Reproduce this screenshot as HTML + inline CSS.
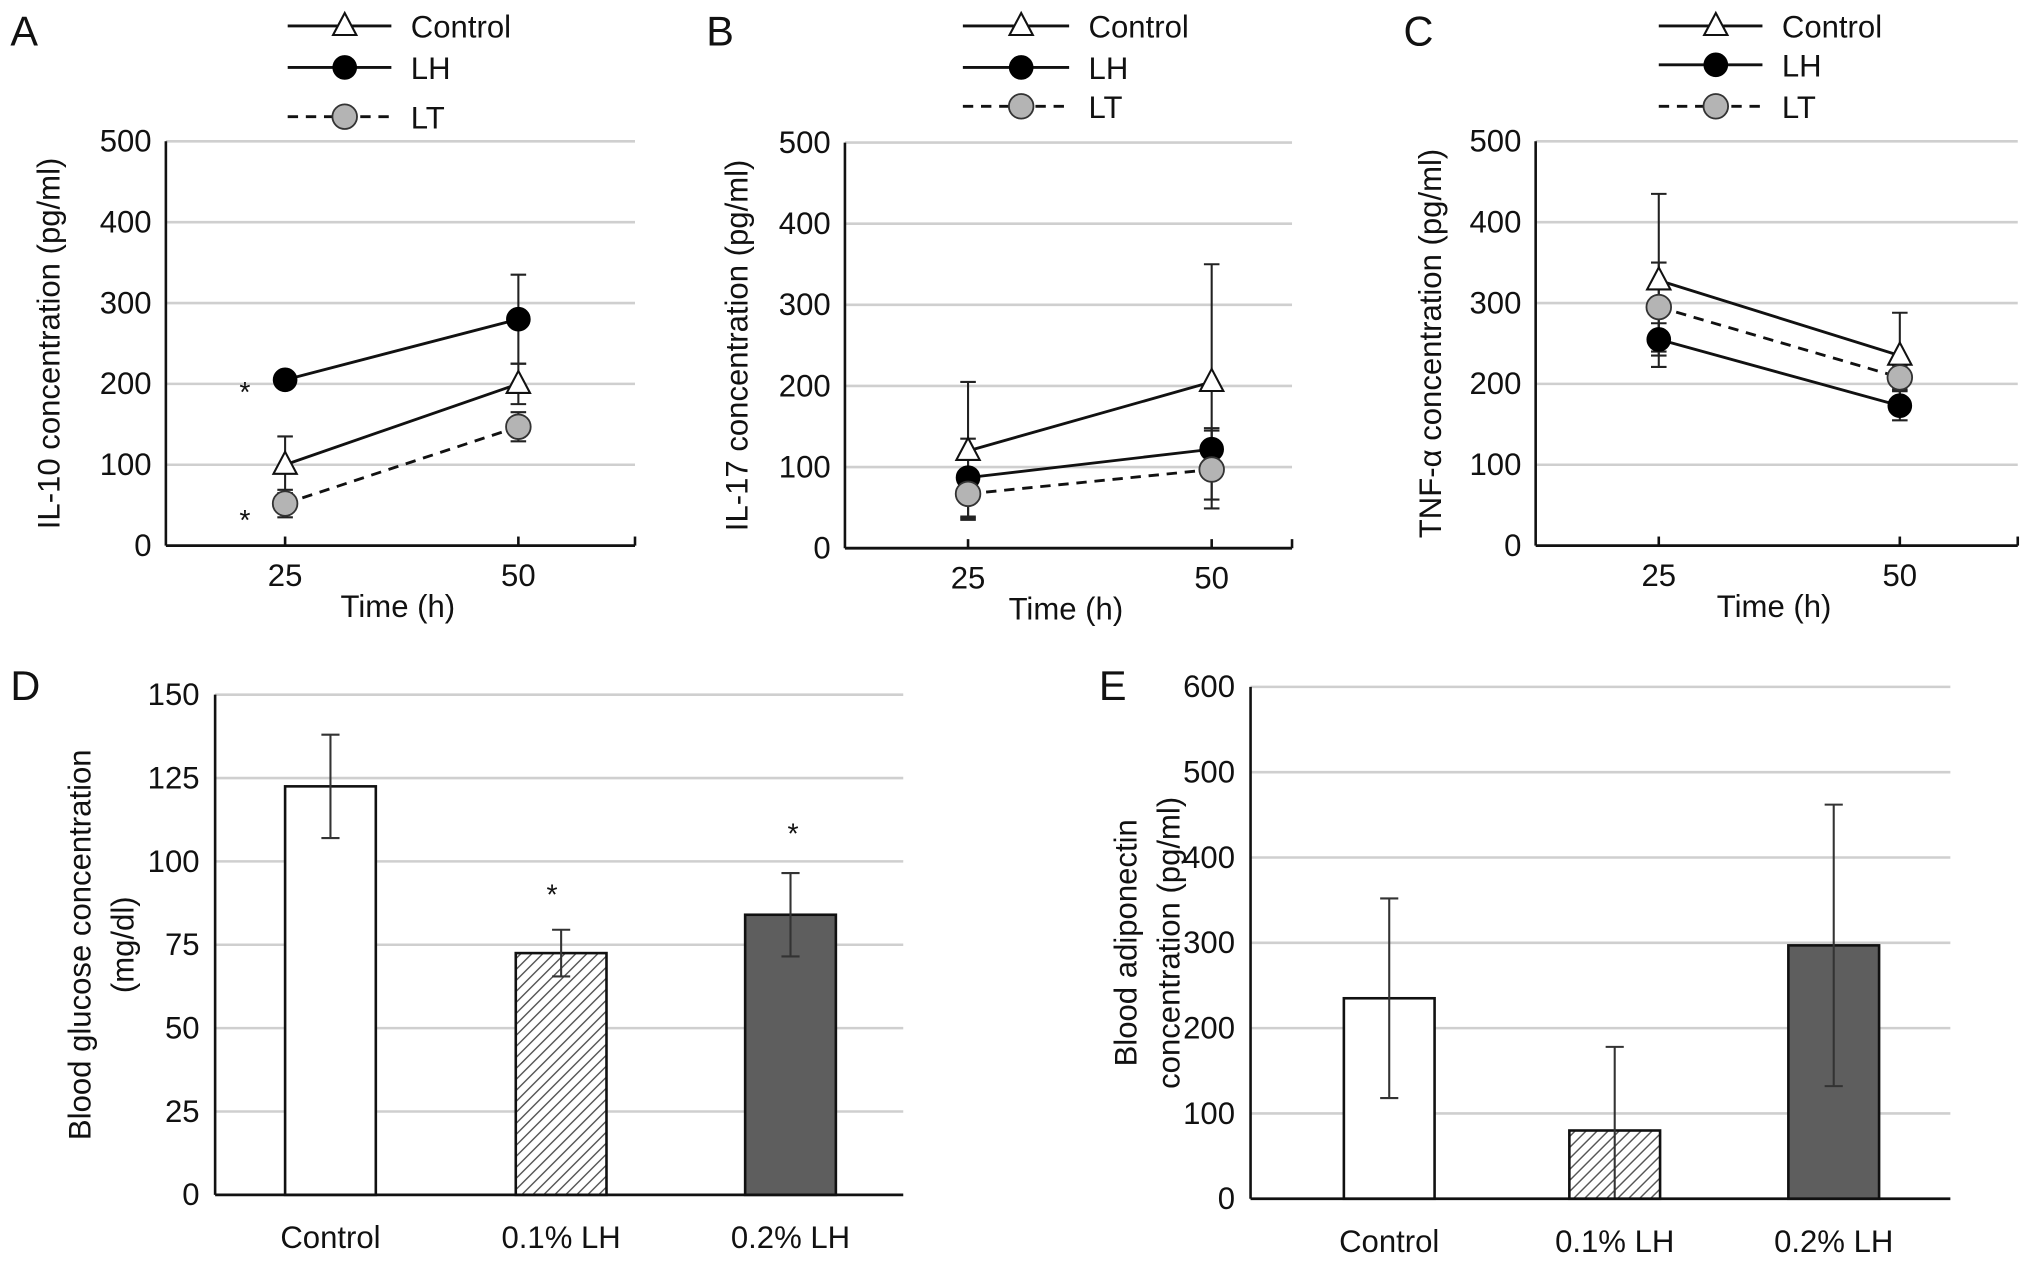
<!DOCTYPE html>
<html><head><meta charset="utf-8"><style>
html,body{margin:0;padding:0;background:#fff;}
svg{display:block;font-family:"Liberation Sans",sans-serif;}
</style></head><body>
<svg id="fig" width="2032" height="1261" viewBox="0 0 1568 973" xmlns="http://www.w3.org/2000/svg">
<defs>
<pattern id="hatch" patternUnits="userSpaceOnUse" width="6" height="6" patternTransform="rotate(45)">
<rect width="6" height="6" fill="#fff"/><line x1="0" y1="0" x2="0" y2="6" stroke="#555" stroke-width="2.2"/>
</pattern>
</defs>
</svg>
<script>
// ---- Line panel data ----
const timeCats = [25, 50];
const lineTicks = [0, 100, 200, 300, 400, 500];
const aControl = [100, 200], aControlErr = [35, 25];
const aLH = [205, 280], aLHErr = [0, 55];
const aLT = [52, 147], aLTErr = [17, 18];
const bControl = [120, 205], bControlErr = [85, 145];
const bLH = [87, 122], bLHErr = [48, 26];
const bLT = [67, 97], bLTErr = [30, 48];
const cControl = [328, 235], cControlErr = [107, 53];
const cLH = [255, 173], cLHErr = [20, 18];
const cLT = [295, 208], cLTErr = [55, 15];
// ---- Bar panel data ----
const barCats = ['Control', '0.1% LH', '0.2% LH'];
const dValues = [122.5, 72.5, 84];
const dErr = [15.5, 7, 12.5];
const dTicks = [0, 25, 50, 75, 100, 125, 150];
const eValues = [235, 80, 297];
const eErr = [117, 98, 165];
const eTicks = [0, 100, 200, 300, 400, 500, 600];

const NS = 'http://www.w3.org/2000/svg';
const svg = document.getElementById('fig');
function mk(tag, attrs, parent) {
  const e = document.createElementNS(NS, tag);
  for (const k in attrs) e.setAttribute(k, attrs[k]);
  (parent || svg).appendChild(e);
  return e;
}
function txt(x, y, s, size, anchor, parent, extra) {
  const t = mk('text', Object.assign({x: x, y: y, 'font-size': size, 'text-anchor': anchor || 'start', fill: '#111'}, extra || {}), parent);
  t.textContent = s;
  return t;
}

function marker(g, type, x, y) {
  let m;
  if (type === 'tri') m = mk('polygon', {points: `${x},${y-10} ${x-9},${y+7} ${x+9},${y+7}`, fill: '#fff', stroke: '#111', 'stroke-width': 1.6}, g);
  else if (type === 'black') m = mk('circle', {cx: x, cy: y, r: 9, fill: '#000', stroke: '#000'}, g);
  else m = mk('circle', {cx: x, cy: y, r: 9.5, fill: '#b4b4b4', stroke: '#333', 'stroke-width': 1.4}, g);
  return m;
}

function linePanel(cfg) {
  const g = mk('g', {});
  
  
  const yS = v => cfg.y0 + (cfg.y500 - cfg.y0) * v / 500;
  const xS = i => cfg.xt[i];
  lineTicks.forEach(t => {
    if (t > 0) {
      const gl = mk('line', {x1: cfg.x0, x2: cfg.x1, y1: yS(t), y2: yS(t), stroke: '#cfcfcf', 'stroke-width': 2}, g);
      
      
    }
    const tl = txt(cfg.x0 - 11, yS(t) + 8, String(t), 24, 'end', g);
    
    
  });
  mk('line', {x1: cfg.x0, x2: cfg.x0, y1: yS(500), y2: yS(0), stroke: '#111', 'stroke-width': 2}, g);
  mk('line', {x1: cfg.x0, x2: cfg.x1, y1: yS(0), y2: yS(0), stroke: '#111', 'stroke-width': 2.2}, g);
  mk('line', {x1: cfg.x1, x2: cfg.x1, y1: yS(0) - 7, y2: yS(0), stroke: '#111', 'stroke-width': 2}, g);
  timeCats.forEach((c, i) => {
    mk('line', {x1: xS(i), x2: xS(i), y1: yS(0) - 7, y2: yS(0), stroke: '#111', 'stroke-width': 2}, g);
    const tl = txt(xS(i), yS(0) + 31, String(c), 24, 'middle', g);
    
    
  });
  const xt = txt((cfg.x0 + cfg.x1) / 2 - 2, yS(0) + 55, 'Time (h)', 24, 'middle', g);
  
  
  const cy = (yS(0) + yS(500)) / 2;
  const yt = txt(cfg.ytx, cy, cfg.ytitle, 24, 'middle', g, {transform: `rotate(-90 ${cfg.ytx} ${cy})`});
  
  
  const series = [
    {name: 'control', vals: cfg.control, err: cfg.controlErr, m: 'tri', dash: null},
    {name: 'lh', vals: cfg.lh, err: cfg.lhErr, m: 'black', dash: null},
    {name: 'lt', vals: cfg.lt, err: cfg.ltErr, m: 'gray', dash: '8 6'}
  ];
  series.forEach(s => {
    s.vals.forEach((v, i) => {
      if (!s.err[i]) return;
      const x = xS(i), a = yS(v - s.err[i]), b = yS(v + s.err[i]);
      const eb = mk('path', {d: `M${x},${a}V${b}M${x-6},${a}H${x+6}M${x-6},${b}H${x+6}`, stroke: '#222', 'stroke-width': 1.6, fill: 'none'}, g);
      
      
    });
  });
  series.forEach(s => {
    const ln = mk('line', {x1: xS(0), y1: yS(s.vals[0]), x2: xS(1), y2: yS(s.vals[1]), stroke: '#111', 'stroke-width': 2.2}, g);
    if (s.dash) ln.setAttribute('stroke-dasharray', s.dash);
    
    
  });
  series.forEach(s => {
    s.vals.forEach((v, i) => {
      const m = marker(g, s.m, xS(i), yS(v));
      
      
    });
  });
  const labels = ['Control', 'LH', 'LT'];
  series.forEach((s, k) => {
    const lg = mk('g', {}, g);
    
    
    const ly = cfg.ly[k];
    const l = mk('line', {x1: cfg.lx0, x2: cfg.lx1, y1: ly, y2: ly, stroke: '#111', 'stroke-width': 2.2}, lg);
    if (s.dash) l.setAttribute('stroke-dasharray', s.dash);
    marker(lg, s.m, (cfg.lx0 + cfg.lx1) / 2 + 4, ly);
    txt(cfg.lx1 + 15, ly + 9, labels[k], 24, 'start', lg);
  });
  const pl = txt(cfg.letterX, 35, cfg.letter, 32, 'start', g);
  
  
  return g;
}

linePanel({name: 'panel-a-il10', letter: 'A', letterX: 8, x0: 128, x1: 490, xt: [220, 400], y0: 421, y500: 109,
  ytx: 46, ytitle: 'IL-10 concentration (pg/ml)', lx0: 222, lx1: 302, ly: [20, 52, 90],
  control: aControl, controlErr: aControlErr, lh: aLH, lhErr: aLHErr, lt: aLT, ltErr: aLTErr});
linePanel({name: 'panel-b-il17', letter: 'B', letterX: 545, x0: 652, x1: 997, xt: [747, 935], y0: 423, y500: 110,
  ytx: 577, ytitle: 'IL-17 concentration (pg/ml)', lx0: 743, lx1: 825, ly: [20, 52, 82],
  control: bControl, controlErr: bControlErr, lh: bLH, lhErr: bLHErr, lt: bLT, ltErr: bLTErr});
linePanel({name: 'panel-c-tnf', letter: 'C', letterX: 1083, x0: 1185, x1: 1557, xt: [1280, 1466], y0: 421, y500: 109,
  ytx: 1112, ytitle: 'TNF-\u03b1 concentration (pg/ml)', lx0: 1280, lx1: 1360, ly: [20, 50, 82],
  control: cControl, controlErr: cControlErr, lh: cLH, lhErr: cLHErr, lt: cLT, ltErr: cLTErr});

[[189, 310], [189, 409]].forEach(p => {
  const a = txt(p[0], p[1], '*', 22, 'middle');
  
  
});

function barPanel(cfg) {
  const g = mk('g', {});
  
  
  const max = cfg.ticks[cfg.ticks.length - 1];
  const yS = v => cfg.y0 + (cfg.ytop - cfg.y0) * v / max;
  cfg.ticks.forEach(t => {
    if (t > 0) {
      const gl = mk('line', {x1: cfg.x0, x2: cfg.x1, y1: yS(t), y2: yS(t), stroke: '#cfcfcf', 'stroke-width': 2}, g);
      
      
    }
    const tl = txt(cfg.x0 - 12, yS(t) + 8, String(t), 24, 'end', g);
    
    
  });
  mk('line', {x1: cfg.x0, x2: cfg.x0, y1: yS(max), y2: yS(0), stroke: '#111', 'stroke-width': 2}, g);
  const fills = ['#fff', 'url(#hatch)', '#5e5e5e'];
  cfg.values.forEach((v, i) => {
    const cx = cfg.xc[i];
    const b = mk('rect', {x: cx - 35, y: yS(v), width: 70, height: yS(0) - yS(v), fill: fills[i], stroke: '#111', 'stroke-width': 2}, g);
    
    
    const a = yS(Math.max(0, v - cfg.err[i])), c = yS(v + cfg.err[i]);
    const eb = mk('path', {d: `M${cx},${a}V${c}M${cx-7},${a}H${cx+7}M${cx-7},${c}H${cx+7}`, stroke: '#333', 'stroke-width': 1.6, fill: 'none'}, g);
    
    
    const tl = txt(cx, cfg.y0 + 41, barCats[i], 24, 'middle', g);
    
    
  });
  mk('line', {x1: cfg.x0, x2: cfg.x1, y1: yS(0), y2: yS(0), stroke: '#111', 'stroke-width': 2.2}, g);
  const cy = (yS(0) + yS(max)) / 2;
  cfg.ytitle.forEach((s, k) => {
    const x = cfg.ytx + k * 33;
    const yt = txt(x, cy, s, 24, 'middle', g, {transform: `rotate(-90 ${x} ${cy})`});
    
    
  });
  const pl = txt(cfg.letterX, 540, cfg.letter, 32, 'start', g);
  
  
}
barPanel({name: 'panel-d-glucose', letter: 'D', letterX: 8, x0: 166, x1: 697, y0: 922, ytop: 536, ticks: dTicks,
  values: dValues, err: dErr, xc: [255, 433, 610], ytx: 70, ytitle: ['Blood glucose concentration', '(mg/dl)']});
barPanel({name: 'panel-e-adiponectin', letter: 'E', letterX: 848, x0: 965, x1: 1505, y0: 925, ytop: 530, ticks: eTicks,
  values: eValues, err: eErr, xc: [1072, 1246, 1415], ytx: 877, ytitle: ['Blood adiponectin', 'concentration (pg/ml)']});
[[426, 698], [612, 651]].forEach(p => {
  const a = txt(p[0], p[1], '*', 22, 'middle');
  
  
});
</script>
</body></html>
